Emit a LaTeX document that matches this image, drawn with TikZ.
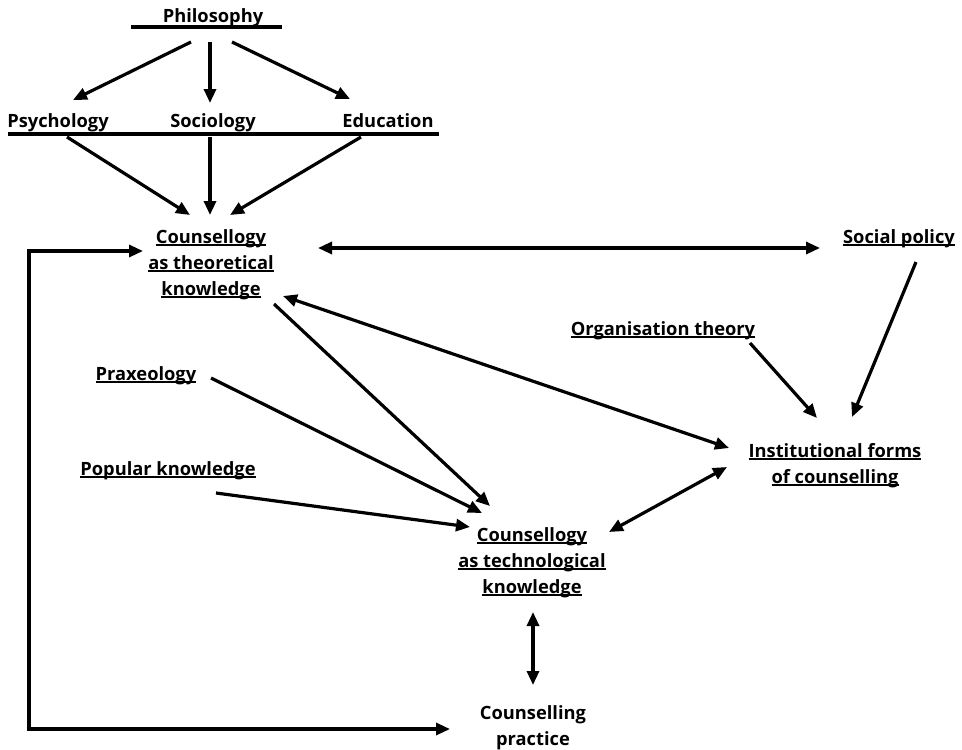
\documentclass[tikz,border=0pt]{standalone}
\usepackage{fontspec}
\setmainfont{Open Sans}
\usepackage{tikz}
\usetikzlibrary{arrows.meta}

% underline at a fixed depth below the baseline
\newcommand{\ulbox}[1]{\setbox0=\hbox{#1}\rlap{\rule[-2.8pt]{\wd0}{1.6pt}}\box0}

\begin{document}
\begin{tikzpicture}[x=1pt,y=-1pt]

    % Custom styles
    \tikzstyle{lbl} = [draw=none, fill=none, anchor=base, inner sep=0pt, align=center,
                       font=\fontsize{18.3}{26}\selectfont\bfseries]
    \tikzstyle{arr} = [line width=3.2pt, -{Triangle[length=14pt,width=12pt]}]
    \tikzstyle{darr} = [line width=3.2pt, {Triangle[length=14pt,width=12pt]}-{Triangle[length=14pt,width=12pt]}]
    \tikzstyle{rulel} = [line width=3.2pt]

    \useasboundingbox (0,0) rectangle (962,750);

    % Define nodes (base = last line)
    \node[lbl] (phil) at (213,22) {Philosophy};
    \node[lbl] (psych) at (58,127) {Psychology};
    \node[lbl] (soc) at (213,127) {Sociology};
    \node[lbl] (edu) at (388,127) {Education};
    \node[lbl] (theo) at (211,295) {\ulbox{Counsellogy}\\ \ulbox{as theoretical}\\ \ulbox{knowledge}};
    \node[lbl] (social) at (899,243) {\ulbox{Social policy}};
    \node[lbl] (org) at (663,335) {\ulbox{Organisation theory}};
    \node[lbl] (prax) at (146,380) {\ulbox{Praxeology}};
    \node[lbl] (pop) at (168,475) {\ulbox{Popular knowledge}};
    \node[lbl] (inst) at (835,483) {\ulbox{Institutional forms}\\ \ulbox{of counselling}};
    \node[lbl] (tech) at (532,593) {\ulbox{Counsellogy}\\ \ulbox{as technological}\\ \ulbox{knowledge}};
    \node[lbl] (prac) at (533,745) {Counselling\\ practice};

    % Rules under the top rows
    \draw[rulel] ([shift={(-82,5)}]phil.base) -- ([shift={(69,5)}]phil.base);
    \draw[rulel] ([shift={(-50,7)}]psych.base) -- ([shift={(51,7)}]edu.base);

    % Connect nodes
    \draw[arr] ([shift={(-22,20)}]phil.base) -- ([shift={(15,-27)}]psych.base);
    \draw[arr] ([shift={(-3,20)}]phil.base) -- ([shift={(-3,-24)}]soc.base);
    \draw[arr] ([shift={(19,20)}]phil.base) -- ([shift={(-38,-28)}]edu.base);
    \draw[arr] ([shift={(9,10)}]psych.base) -- ([shift={(-21,-80)}]theo.base);
    \draw[arr] ([shift={(-3,10)}]soc.base) -- ([shift={(-1,-80)}]theo.base);
    \draw[arr] ([shift={(-27,10)}]edu.base) -- ([shift={(19,-80)}]theo.base);
    \draw[darr] ([shift={(107,-47)}]theo.base) -- ([shift={(-79,5)}]social.base);
    \draw[arr] ([shift={(17,19)}]social.base) -- ([shift={(17,-66)}]inst.base);
    \draw[arr] ([shift={(87,8)}]org.base) -- ([shift={(-18,-65)}]inst.base);
    \draw[darr] ([shift={(72,1)}]theo.base) -- ([shift={(-106,-35)}]inst.base);
    \draw[arr] ([shift={(63,9)}]theo.base) -- ([shift={(-42,-87)}]tech.base);
    \draw[arr] ([shift={(65,-2)}]prax.base) -- ([shift={(-50,-80)}]tech.base);
    \draw[arr] ([shift={(48,18)}]pop.base) -- ([shift={(-62,-66)}]tech.base);
    \draw[darr] ([shift={(77,-61)}]tech.base) -- ([shift={(-108,-16)}]inst.base);
    \draw[darr] ([shift={(1,19)}]tech.base) -- ([shift={(0,-60)}]prac.base);
    \draw[darr] ([shift={(-68,-44)}]theo.base) -- ++(-114,0) |- ([shift={(-83,-16)}]prac.base);

\end{tikzpicture}
\end{document}
